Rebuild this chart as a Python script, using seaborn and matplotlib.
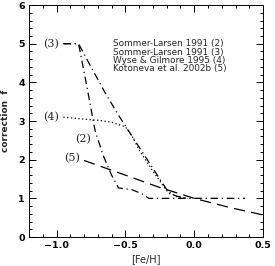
import matplotlib
matplotlib.use("Agg")
import matplotlib.pyplot as plt
import seaborn as sns
import pandas as pd
from matplotlib.ticker import MultipleLocator, FixedLocator

# Data
x2 = [-0.95, -0.84, -0.78, -0.72, -0.66, -0.60, -0.55, -0.45, -0.38, -0.33, -0.20, 0.0, 0.2, 0.37]
y2 = [5.0, 5.0, 3.9, 2.75, 2.1, 1.6, 1.27, 1.22, 1.12, 1.0, 1.0, 1.0, 1.0, 1.0]
x3 = [-0.95, -0.84, -0.75, -0.65, -0.55, -0.45, -0.35, -0.25, -0.18, -0.12, -0.05]
y3 = [5.0, 5.0, 4.4, 3.75, 3.15, 2.6, 2.05, 1.5, 1.12, 1.05, 1.0]
x4 = [-0.95, -0.80, -0.70, -0.60, -0.50, -0.45, -0.40, -0.30, -0.20, -0.12, -0.05]
y4 = [3.1, 3.05, 3.02, 2.97, 2.85, 2.6, 2.25, 1.7, 1.2, 1.03, 1.0]
x5 = [-0.80, -0.50, -0.25, 0.0, 0.25, 0.5]
y5 = [1.98, 1.6, 1.28, 1.0, 0.77, 0.57]
legend_lines = ["Sommer-Larsen 1991 (2)", "Sommer-Larsen 1991 (3)",
                "Wyse & Gilmore 1995 (4)", "Kotoneva et al. 2002b (5)"]
curve_labels = ["(2)", "(3)", "(4)", "(5)"]
xticks = [-1.0, -0.5, 0.0, 0.5]
xticklabels = ["\u22121.0", "\u22120.5", "0.0", "0.5"]

sns.set_style("ticks")
plt.rcParams['font.family'] = ['DejaVu Sans']

fig = plt.figure(figsize=(2.75, 2.66), dpi=100, facecolor="white")
ax = fig.add_axes([0.1055, 0.109, 0.851, 0.872])

dash_dot = (0, (6, 3, 1, 3))
for xs, ys, ls in [(x2, y2, dash_dot), (x3, y3, dash_dot),
                   (x4, y4, (0, (1, 2))), (x5, y5, (0, (9, 5)))]:
    df = pd.DataFrame({"x": xs, "y": ys})
    sns.lineplot(data=df, x="x", y="y", ax=ax, color="black", lw=0.9,
                 linestyle=ls, sort=False, estimator=None)

ax.set_xlim(-1.2, 0.5)
ax.set_ylim(0, 6)
ax.xaxis.set_major_locator(FixedLocator(xticks))
ax.set_xticklabels(xticklabels)
ax.xaxis.set_minor_locator(MultipleLocator(0.1))
ax.yaxis.set_major_locator(MultipleLocator(1))
ax.yaxis.set_minor_locator(MultipleLocator(0.2))
ax.tick_params(which="both", direction="in", top=True, right=True,
               bottom=True, left=True, labelsize=6.8, pad=3,
               colors="black", width=0.7)
ax.tick_params(which="major", length=5)
ax.tick_params(which="minor", length=2.5)
for lab in ax.get_xticklabels() + ax.get_yticklabels():
    lab.set_fontweight("bold")
for s in ax.spines.values():
    s.set_linewidth(0.7)
    s.set_color("black")

ax.set_xlabel("[Fe/H]", fontsize=7, labelpad=3)
ax.set_ylabel("correction  f", fontsize=6.5, fontweight="bold", labelpad=6)

# curve labels (serif)
pos = [(-0.81, 2.52), (-1.04, 5.0), (-1.04, 3.1), (-0.89, 2.05)]
for t, (px, py) in zip(curve_labels, pos):
    ax.text(px, py, t, family="DejaVu Serif", fontsize=8, ha="center", va="center")

for i, t in enumerate(legend_lines):
    ax.text(-0.59, 5.0 - i * 0.215, t, fontsize=6.4, fontweight="medium",
            ha="left", va="center")

fig.savefig("out.png", dpi=100, facecolor="white")
